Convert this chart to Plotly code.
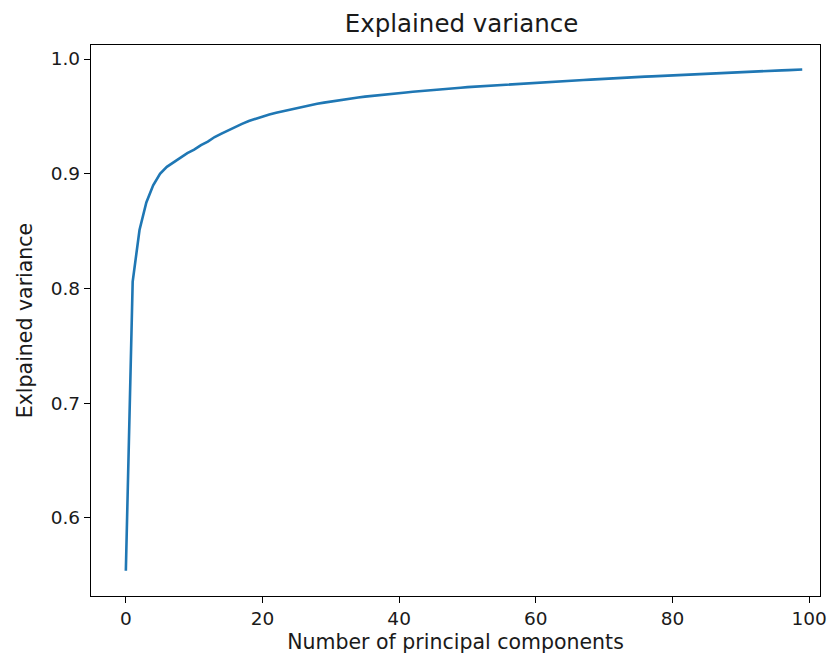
import plotly.graph_objects as go

components = list(range(100))
explained = [
    0.554, 0.806, 0.851, 0.875, 0.890, 0.900, 0.906, 0.910, 0.914, 0.918,
    0.921, 0.925, 0.928, 0.932, 0.935, 0.938, 0.941, 0.9435, 0.946, 0.948,
    0.9500, 0.9516, 0.9531, 0.9545, 0.9557, 0.9568, 0.9584, 0.9598, 0.9610, 0.9620,
    0.9630, 0.9639, 0.9648, 0.9656, 0.9664, 0.9672, 0.9679, 0.9686, 0.9692, 0.9697,
    0.9702, 0.9708, 0.9714, 0.9720, 0.9725, 0.9730, 0.9735, 0.9740, 0.9745, 0.9750,
    0.9755, 0.9759, 0.9763, 0.9767, 0.9771, 0.9775, 0.9779, 0.9783, 0.9787, 0.9790,
    0.9794, 0.9797, 0.9800, 0.9804, 0.9807, 0.9810, 0.9814, 0.9817, 0.9820, 0.9824,
    0.9827, 0.9831, 0.9834, 0.9837, 0.9840, 0.9843, 0.9846, 0.9849, 0.9852, 0.9855,
    0.9858, 0.9861, 0.9864, 0.9867, 0.9870, 0.9873, 0.9876, 0.9878, 0.9881, 0.9883,
    0.9886, 0.9888, 0.9891, 0.9893, 0.9896, 0.9898, 0.9901, 0.9903, 0.9906, 0.9908,
]
x_ticks = [0, 20, 40, 60, 80, 100]
y_ticks = [0.6, 0.7, 0.8, 0.9, 1.0]
y_tick_labels = ["0.6", "0.7", "0.8", "0.9", "1.0"]

FONT = "DejaVu Sans"

fig = go.Figure()
fig.add_trace(go.Scatter(
    x=components, y=explained, mode="lines",
    line=dict(color="#1f77b4", width=2.6),
    showlegend=False,
))

axis_common = dict(
    showline=True, mirror=True, linecolor="black", linewidth=1.3,
    ticks="outside", ticklen=6, tickwidth=1.3, tickcolor="black",
    showgrid=False, zeroline=False,
    tickfont=dict(family=FONT, size=18.5, color="#1a1a1a"),
)

fig.update_layout(
    width=830, height=665,
    margin=dict(l=91, r=10, t=45, b=69, autoexpand=False),
    paper_bgcolor="white", plot_bgcolor="white",
    font=dict(family=FONT, color="#1a1a1a"),
    title=dict(
        text="Explained variance",
        font=dict(family=FONT, size=24.5, color="#1a1a1a"),
        x=461.5 / 830, xref="container", xanchor="center",
        y=1 - 23 / 665, yref="container", yanchor="middle",
    ),
    xaxis=dict(
        range=[-5.1, 101.6], tickvals=x_ticks,
        title=dict(text="Number of principal components",
                   font=dict(family=FONT, size=20.5, color="#1a1a1a"), standoff=6),
        automargin=False,
        **axis_common,
    ),
    yaxis=dict(
        range=[0.532, 1.0122], tickvals=y_ticks, ticktext=y_tick_labels,
        title=dict(text="Exlpained variance",
                   font=dict(family=FONT, size=20.5, color="#1a1a1a"), standoff=12),
        automargin=False,
        **axis_common,
    ),
)

fig.write_html("out.html")
